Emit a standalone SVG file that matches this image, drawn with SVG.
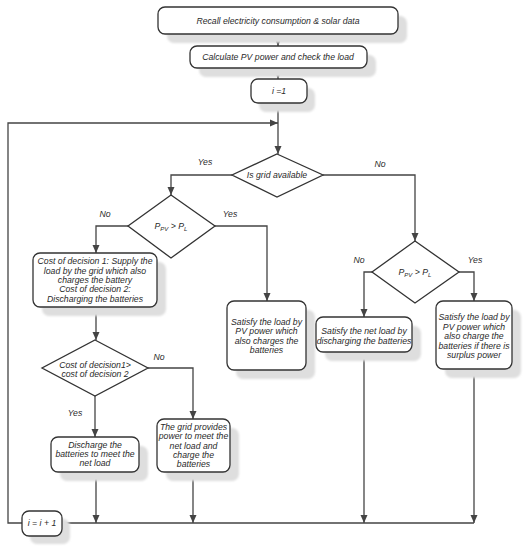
<svg xmlns="http://www.w3.org/2000/svg" width="525" height="550" viewBox="0 0 525 550">
<style>
.box{fill:#fff;stroke:#333;stroke-width:1.3}
.sh{fill:#dedede;filter:url(#blur)}
.dia{fill:#fff;stroke:#333;stroke-width:1.3}
.con{fill:none;stroke:#444;stroke-width:1.3}
text{font-family:"Liberation Sans",Arial,sans-serif;font-style:italic;font-size:8.7px;fill:#2a2a2a;text-anchor:middle}
</style>
<defs>
<filter id="blur" x="-10%" y="-10%" width="120%" height="120%"><feGaussianBlur stdDeviation="1.2"/></filter>
<marker id="arr" markerUnits="userSpaceOnUse" markerWidth="8" markerHeight="8" refX="8" refY="4" orient="auto"><path d="M0,0.5 L8,4 L0,7.5 z" fill="#444"/></marker>
</defs>
<rect width="525" height="550" fill="#fff"/>

<g id="connectors">
<path class="con" d="M278,34 V46" marker-end="url(#arr)"/>
<path class="con" d="M278,68 V79" marker-end="url(#arr)"/>
<path class="con" d="M278,103 V154" marker-end="url(#arr)"/>
<path class="con" d="M232,175 H171 V195" marker-end="url(#arr)"/>
<path class="con" d="M323,175 H415 V241" marker-end="url(#arr)"/>
<path class="con" d="M128,226 H96 V253" marker-end="url(#arr)"/>
<path class="con" d="M215,226 H267 V301" marker-end="url(#arr)"/>
<path class="con" d="M372,272 H364 V317" marker-end="url(#arr)"/>
<path class="con" d="M459,272 H474 V301" marker-end="url(#arr)"/>
<path class="con" d="M96,307 V340" marker-end="url(#arr)"/>
<path class="con" d="M95,396 V437" marker-end="url(#arr)"/>
<path class="con" d="M148,368 H193 V419" marker-end="url(#arr)"/>
<path class="con" d="M96,472 V523" marker-end="url(#arr)"/>
<path class="con" d="M193,472 V523" marker-end="url(#arr)"/>
<path class="con" d="M364,352 V523" marker-end="url(#arr)"/>
<path class="con" d="M474,369 V523" marker-end="url(#arr)"/>
<path class="con" d="M474,523 H8 V123 H278" marker-end="url(#arr)"/>
<text x="205" y="165">Yes</text>
<text x="380" y="167">No</text>
<text x="105" y="217">No</text>
<text x="230" y="217">Yes</text>
<text x="359" y="263">No</text>
<text x="475" y="263">Yes</text>
<text x="159" y="360">No</text>
<text x="75" y="416">Yes</text>
</g>

<g id="recall">
<rect class="sh" x="167" y="16" width="240" height="27" rx="7"/>
<rect class="box" x="158" y="7" width="240" height="27" rx="7"/>
<text x="278" y="24">Recall electricity consumption &amp; solar data</text>
</g>
<g id="calc">
<rect class="sh" x="199" y="55" width="177" height="22" rx="7"/>
<rect class="box" x="190" y="46" width="177" height="22" rx="7"/>
<text x="278" y="60">Calculate PV power and check the load</text>
</g>
<g id="init">
<rect class="sh" x="259" y="88" width="56" height="24" rx="7"/>
<rect class="box" x="251" y="79" width="56" height="24" rx="7"/>
<text x="279" y="94">i =1</text>
</g>
<g id="grid-available">
<path class="dia" d="M277,154 L323,175 L277,197 L232,175 z"/>
<text x="277" y="178">Is grid available</text>
</g>
<g id="ppv-pl-1">
<path class="dia" d="M171,195 L215,226 L171,258 L128,226 z"/>
<text x="171" y="229">P<tspan font-size="6" dy="1.5">PV</tspan><tspan dy="-1.5"> &gt; P</tspan><tspan font-size="6" dy="1.5">L</tspan></text>
</g>
<g id="cost-box">
<rect class="sh" x="42" y="262" width="124" height="54" rx="7"/>
<rect class="box" x="33" y="253" width="124" height="54" rx="7"/>
<text x="95" y="264">Cost of decision 1: Supply the</text>
<text x="95" y="274">load by the grid which also</text>
<text x="95" y="283">charges the battery</text>
<text x="95" y="292">Cost of decision 2:</text>
<text x="95" y="302">Discharging the batteries</text>
</g>
<g id="satisfy-pv">
<rect class="sh" x="236" y="310" width="79" height="69" rx="7"/>
<rect class="box" x="227" y="301" width="79" height="69" rx="7"/>
<text x="266.5" y="325">Satisfy the load by</text>
<text x="266.5" y="334">PV power which</text>
<text x="266.5" y="344">also charges the</text>
<text x="266.5" y="353">batteries</text>
</g>
<g id="ppv-pl-2">
<path class="dia" d="M415,241 L459,272 L415,303 L372,272 z"/>
<text x="415" y="275">P<tspan font-size="6" dy="1.5">PV</tspan><tspan dy="-1.5"> &gt; P</tspan><tspan font-size="6" dy="1.5">L</tspan></text>
</g>
<g id="net-load">
<rect class="sh" x="325" y="326" width="96" height="35" rx="7"/>
<rect class="box" x="316" y="317" width="96" height="35" rx="7"/>
<text x="364" y="334">Satisfy the net load by</text>
<text x="364" y="344">discharging the batteries</text>
</g>
<g id="surplus">
<rect class="sh" x="445" y="310" width="76" height="68" rx="7"/>
<rect class="box" x="436" y="301" width="76" height="68" rx="7"/>
<text x="474" y="320">Satisfy the load by</text>
<text x="474" y="329.5">PV power which</text>
<text x="474" y="339">also charge the</text>
<text x="474" y="348.5">batteries if there is</text>
<text x="474" y="358">surplus power</text>
</g>
<g id="cost-compare">
<path class="dia" d="M95,340 L148,368 L95,396 L42,368 z"/>
<text x="95" y="368">Cost of decision1&gt;</text>
<text x="95" y="377">cost of decision 2</text>
</g>
<g id="discharge">
<rect class="sh" x="60" y="446" width="88" height="35" rx="7"/>
<rect class="box" x="51" y="437" width="88" height="35" rx="7"/>
<text x="95" y="448">Discharge the</text>
<text x="95" y="457">batteries to meet the</text>
<text x="95" y="466">net load</text>
</g>
<g id="grid-provides">
<rect class="sh" x="166" y="428" width="73" height="53" rx="7"/>
<rect class="box" x="157" y="419" width="73" height="53" rx="7"/>
<text x="193.5" y="430">The grid provides</text>
<text x="193.5" y="439">power to meet the</text>
<text x="193.5" y="449">net load and</text>
<text x="193.5" y="458">charge the</text>
<text x="193.5" y="467">batteries</text>
</g>
<g id="increment">
<rect class="sh" x="30" y="519" width="40" height="25" rx="7"/>
<rect class="box" x="22" y="511" width="40" height="25" rx="7"/>
<text x="42" y="526">i = i + 1</text>
</g>
</svg>
